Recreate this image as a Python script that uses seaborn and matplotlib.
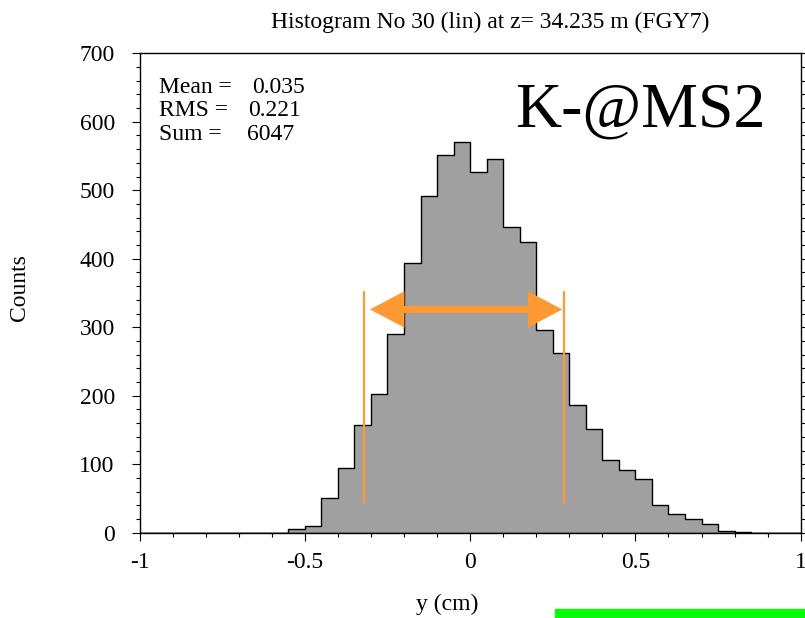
import numpy as np
import pandas as pd
import matplotlib
matplotlib.use("Agg")
import matplotlib.pyplot as plt
from matplotlib.patches import Rectangle
from matplotlib.ticker import MultipleLocator
import seaborn as sns

# histogram: 40 bins of 0.05 cm between -1 and 1
bin_edges = np.linspace(-1.0, 1.0, 41)
counts = [0, 0, 0, 0, 0, 0, 0, 0, 0,
          5, 10, 51, 94, 157, 202, 290, 394, 492, 552,
          571, 527, 545, 447, 425, 296, 263, 186, 151, 106,
          92, 78, 41, 27, 20, 13, 2, 1,
          0, 0, 0]
bin_centers = (bin_edges[:-1] + bin_edges[1:]) / 2

stat_names = ["Mean =", "RMS =", "Sum ="]
stat_values = ["0.035", "0.221", "6047"]

# orange markers (width of the distribution)
marker_x = [-0.32, 0.284]
marker_y = [44, 351]
arrow_x = [-0.303, 0.279]
arrow_y = 326

title = "Histogram No 30 (lin) at z= 34.235 m (FGY7)"
tag = "K-@MS2"

df = pd.DataFrame({"y": bin_centers, "n": counts})

sns.set_style("ticks")
plt.rcParams['font.family'] = ['Liberation Serif', 'DejaVu Serif']
plt.rcParams['text.color'] = 'black'
plt.rcParams['xtick.color'] = 'black'
plt.rcParams['ytick.color'] = 'black'

W, H = 805, 618
fig = plt.figure(figsize=(W / 100, H / 100), dpi=100)
ax = fig.add_axes([139.5 / W, 1 - 532.7 / H, 661.2 / W, 479.4 / H])

sns.histplot(data=df, x="y", weights="n", bins=list(bin_edges),
             element="step", fill=True, color="#a0a0a0", alpha=1,
             edgecolor="black", linewidth=1, ax=ax)

ax.set_xlim(-1, 1)
ax.set_ylim(0, 700)
ax.xaxis.set_minor_locator(MultipleLocator(0.1))
ax.yaxis.set_major_locator(MultipleLocator(100))
ax.yaxis.set_minor_locator(MultipleLocator(20))
ax.set_xticks([-1, -0.5, 0, 0.5, 1])
ax.set_xticklabels(["-1", "-0.5", "0", "0.5", "1"])
ax.set_xlabel("")
ax.set_ylabel("")
for s in ax.spines.values():
    s.set_visible(True)
    s.set_color("black")
    s.set_linewidth(1)
ax.tick_params(axis="both", which="major", direction="out", length=5.8,
               width=0.8, color="black", labelsize=17, labelcolor="black")
ax.tick_params(axis="both", which="minor", direction="out", length=2.9,
               width=0.8, color="black")
ax.tick_params(axis="y", which="both", right=True, pad=12)
ax.tick_params(axis="x", which="both", top=False, pad=8)

# orange width markers
for xv in marker_x:
    ax.plot([xv, xv], marker_y, color="#ff9933", lw=1.6, zorder=5)
ax.annotate("", xy=(arrow_x[0], arrow_y), xytext=(arrow_x[1], arrow_y),
            arrowprops=dict(arrowstyle="<|-|>,head_length=0.85,head_width=0.45",
                            mutation_scale=20, lw=5, color="#ff9933",
                            shrinkA=0, shrinkB=0, joinstyle="miter",
                            capstyle="butt"), zorder=6)

# stats box
for i, (n, v) in enumerate(zip(stat_names, stat_values)):
    yb = 93 + i * 23.5
    fig.text(159 / W, 1 - yb / H, n, fontsize=17, va="baseline", ha="left")
    fig.text([252, 248, 247][i] / W, 1 - yb / H, v, fontsize=17,
             va="baseline", ha="left")

fig.text(640 / W, 1 - 127 / H, tag, fontsize=46, ha="center", va="baseline")
fig.text(490 / W, 1 - 22 / H, title, fontsize=17, ha="center", va="center")
fig.text(20 / W, 1 - 288 / H, "Counts", fontsize=17, rotation=90,
         ha="center", va="center")
fig.text(447 / W, 1 - 604 / H, "y (cm)", fontsize=17, ha="center", va="center")

fig.patches.append(Rectangle((555 / W, 0), 250 / W, 9.5 / H,
                             transform=fig.transFigure, color="#00ff00",
                             zorder=10))

fig.savefig("out.png", dpi=100)
